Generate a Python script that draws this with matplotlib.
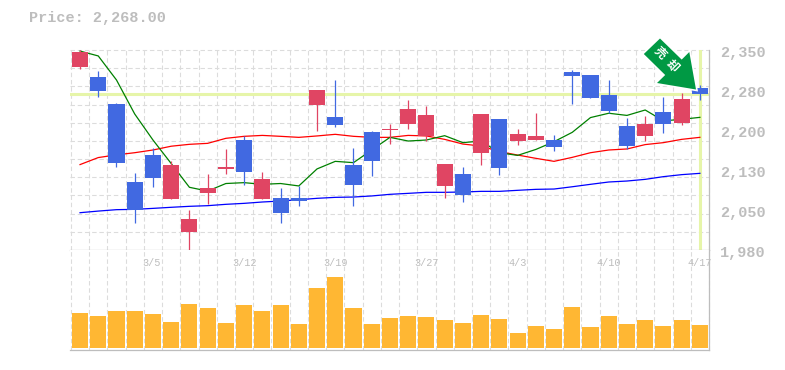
import matplotlib
matplotlib.use('Agg')
import matplotlib.pyplot as plt
from matplotlib.patches import Polygon
from matplotlib.transforms import Affine2D

W, H = 785, 370
GREY = '#bdbdbd'
GRID = '#dcdcdc'
HILITE = '#e6f5a9'
UP = '#e04563'
DOWN = '#4169e1'

opens = [2318.5, 2300, 2250, 2106, 2156, 2074, 2013, 2085.5, 2130, 2183.5, 2074, 2076, 2076, 2248, 2226,
         2137, 2198, 2202, 2213, 2191, 2098, 2120.6, 2159.4, 2222, 2181.6, 2183.5, 2183.5, 2309.3, 2303.7,
         2266.7, 2209.4, 2191, 2235.3, 2215, 2279.7]
closes = [2346.3, 2274, 2141, 2054, 2113, 2137, 2037, 2095, 2133.5, 2124, 2111, 2048.5, 2070.6, 2276, 2211,
          2100, 2145, 2204, 2241, 2230, 2139, 2082, 2231.6, 2131.7, 2194.6, 2191, 2170.6, 2302, 2261,
          2237, 2172.4, 2213, 2213, 2259.3, 2268]
highs = [2350, 2311, 2252, 2122.5, 2169, 2145, 2054, 2120.6, 2167, 2191, 2124, 2095, 2098, 2276, 2294.5,
         2169, 2200, 2213, 2257.5, 2246, 2139, 2133.5, 2231.6, 2222, 2204, 2233.4, 2192.8, 2313, 2303.7,
         2294.5, 2224, 2228, 2263, 2270.5, 2285]
lows = [2314.9, 2263, 2133.5, 2030, 2096.5, 2074, 1979, 2065, 2120.6, 2100, 2074, 2030, 2061, 2200, 2207.5,
        2061, 2117, 2176, 2204, 2181.6, 2076, 2069, 2137, 2118.7, 2174, 2183.5, 2163, 2250, 2261,
        2232.8, 2167, 2181.6, 2196.4, 2211, 2257.5]
ma_short = [2348, 2339, 2294.5, 2231.6, 2183.5, 2140, 2096, 2089, 2103, 2104.6, 2101.5, 2103, 2098.5, 2130, 2144,
            2141.6, 2165, 2188.4, 2181.6, 2183.5, 2191.5, 2178.6, 2181.6, 2160, 2155, 2166, 2180.4, 2197.7, 2225,
            2233, 2229, 2239, 2219, 2221.7, 2225.4]
ma_mid = [2138, 2151, 2156, 2160, 2165, 2172, 2175.5, 2177.3, 2186.6, 2190.3, 2192, 2190.3, 2188.4, 2191, 2194,
          2190.3, 2188.4, 2188.4, 2192, 2191, 2184.7, 2176, 2172.4, 2162, 2155.7, 2149.6, 2144, 2151.4, 2160,
          2165, 2166.9, 2175, 2178.6, 2184.7, 2188.4]
ma_long = [2049, 2052, 2054.6, 2055.2, 2057, 2059, 2060.8, 2062, 2064.5, 2066.3, 2068.8, 2070.6, 2073, 2075.6, 2077.4,
           2078, 2080, 2083, 2084.8, 2086.7, 2086.7, 2087.3, 2088.5, 2088.5, 2090.4, 2092.2, 2092.8, 2097, 2101.5,
           2105.8, 2107.6, 2110.7, 2115.7, 2119.4, 2121.8]
volumes = [35, 32, 37, 37, 34, 26, 44, 40, 25, 43, 37, 43, 24, 60, 71, 40, 24, 30, 32, 31, 28, 25, 33, 29, 15,
           22, 19, 41, 21, 32, 24, 28, 22, 28, 23]
date_pos = [3.9, 9, 14, 19, 24, 29, 34]
date_labels = ['3/5', '3/12', '3/19', '3/27', '4/3', '4/10', '4/17']
price_labels = ['2,350', '2,280', '2,200', '2,130', '2,050', '1,980']
last_price = 2268

plt.rcParams['font.family'] = ['Liberation Mono', 'Noto Sans CJK JP', 'DejaVu Sans']

fig = plt.figure(figsize=(W / 100, H / 100), dpi=100)


def add_axes(left, top, right, bottom):
    return fig.add_axes([left / W, 1 - bottom / H, (right - left) / W, (bottom - top) / H])


ax = add_axes(70, 50, 709, 250)
ax2 = add_axes(70, 250, 709, 350)
xs = list(range(len(closes)))
xlim = (-0.55, 34.5)

# grid
grid_x = [i - 0.5 for i in xs] + [34.5]
for a in (ax, ax2):
    a.set_xlim(*xlim)
    a.vlines(grid_x, 0, 1, transform=a.get_xaxis_transform(), colors=GRID, lw=0.8,
             linestyles=(0, (4, 2.5)), zorder=1, clip_on=False)
    a.set_xticks([])
    a.set_yticks([])
    for s in ('left', 'top'):
        a.spines[s].set_visible(False)
    a.spines['right'].set_color(GREY)
    a.spines['bottom'].set_color(GREY)
    a.spines['right'].set_linewidth(0.9)
    a.spines['bottom'].set_linewidth(0.9)

ax.set_ylim(1980, 2350)
span = 370 / 11
ax.hlines([1980 + span * k for k in range(1, 12)], 0, 1, transform=ax.get_yaxis_transform(),
          colors=GRID, lw=0.8, linestyles=(0, (4, 2.5)), zorder=1, clip_on=False)

# current price cross
ax.axhline(last_price, color=HILITE, lw=2.2, zorder=2)
ax.axvline(xs[-1], color=HILITE, lw=2.2, zorder=2)

# moving averages
ax.plot(xs, ma_long, color='#0000ff', lw=0.9, zorder=3)
ax.plot(xs, ma_mid, color='#ff0000', lw=0.9, zorder=3)
ax.plot(xs, ma_short, color='#008000', lw=0.9, zorder=3, clip_on=False)

# candles
colors = [UP if c >= o else DOWN for o, c in zip(opens, closes)]
bottoms = [min(o, c) for o, c in zip(opens, closes)]
heights = [abs(c - o) for o, c in zip(opens, closes)]
ax.vlines(xs, lows, highs, colors=colors, lw=0.9, zorder=4)
ax.bar(xs, heights, bottom=bottoms, width=0.88, color=colors, lw=0, zorder=5)

# volume
ax2.set_ylim(-2, 98)
ax2.bar(xs, volumes, width=0.88, color='#ffb733', lw=0, zorder=3)

# labels: evenly spaced and set about 3px under their grid rows, like the original
for k, lab in enumerate(price_labels):
    fig.text(720 / W, 1 - (53 + 40 * k) / H, lab, color=GREY, fontsize=10.9, fontweight='bold',
             ha='left', va='center')
for p, lab in zip(date_pos, date_labels):
    ax2.text(p, 85.5, lab, color=GREY, fontsize=7.3, ha='center', va='center', zorder=2)
fig.text(29 / W, 1 - 18 / H, 'Price: 2,268.00', color=GREY, fontsize=10.9, fontweight='bold',
         ha='left', va='center')

# signal arrow, placed in image pixels
px = Affine2D().scale(1, -1).translate(0, H)
arrow = [(660, 38.5), (643.8, 54), (665.2, 75), (657, 83), (696, 89.5), (689.3, 52), (681.7, 59.6)]
fig.add_artist(Polygon(arrow, closed=True, transform=px, facecolor='white', edgecolor='white', lw=2.4, zorder=10))
fig.add_artist(Polygon(arrow, closed=True, transform=px, facecolor='#009944', edgecolor='none', zorder=11))
fig.text(660 / W, 1 - 53 / H, '売', color='white', fontsize=8.5, fontweight='bold', rotation=-45,
         ha='center', va='center', zorder=12)
fig.text(672 / W, 1 - 66 / H, '却', color='white', fontsize=8.5, fontweight='bold', rotation=-45,
         ha='center', va='center', zorder=12)

fig.savefig('out.png', dpi=100)
